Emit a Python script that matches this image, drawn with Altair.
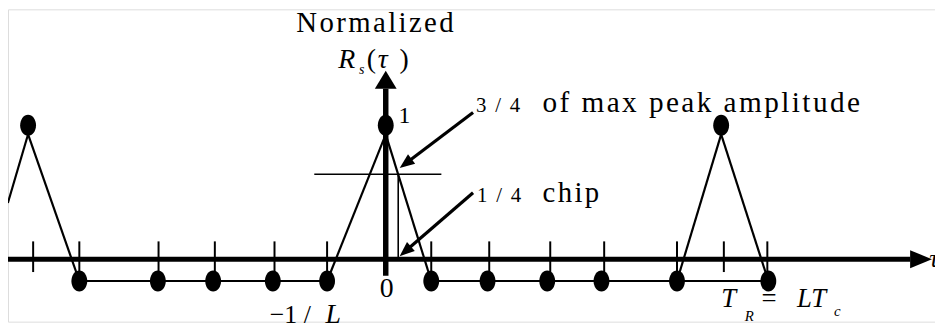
import altair as alt
import pandas as pd

# ---------------- data (tau: delay, R: normalized autocorrelation) ----------------
tick_tau = [-10.46, -9.09, -6.74, -5.07, -3.30, -1.74, 1.35, 3.07, 4.88, 6.48, 8.64, 10.03, 11.32]
tick_low, tick_high = -0.096, 0.133

floor_tau = [-9.09, -6.76, -5.12, -3.35, -1.74, 1.35, 3.02, 4.79, 6.40, 8.64, 11.35]
floor_val = -0.163  # -1/L level

peak_tau = [-10.61, 0.0, 9.95]
peak_val = 1.0
apex_val = 0.933

# triangles: (start tau, start R) -> apex -> (end tau, end R)
tri_start_tau = [-11.21, -1.74, 8.64]
tri_start_val = [0.42, floor_val, floor_val]
tri_end_tau = [-9.09, 1.35, 11.35]

floor_seg_from = [-9.09, 1.35]
floor_seg_to = [-1.74, 11.35]

level_val = 0.635          # 3/4 of max peak line
level_from, level_to = -2.12, 1.65
chip_tau = 0.37            # 1/4 chip marker

# axes
haxis_from, haxis_to, haxis_head = -11.21, 15.56, 15.88
vaxis_from, vaxis_to, vaxis_head = -0.124, 1.274, 1.341

# annotation arrows
arr_from_tau = [2.59, 2.59]
arr_from_val = [1.096, 0.496]
arr_head_tau = [0.59, 0.58]
arr_head_val = [0.715, 0.059]
arr_angle = [233, 229]

HS = "\u200a"  # hair space, mimics the wide letter spacing of the original


def spaced(s):
    return HS.join(s)


# texts
txt_up = pd.DataFrame({
    "tau": [-0.32, 0.38, 2.68, 4.65, 2.71, 4.65, 0.03, -0.56, 0.41, -3.44, 11.15],
    "val": [1.70, 1.015, 1.096, 1.096, 0.430, 0.430, -0.281, 1.43, 1.43, -0.474, -0.356],
    "text": [spaced("Normalized"), "1", spaced("3 / 4"), spaced("of max peak amplitude"),
             spaced("1 / 4"), spaced("chip"), "0", "(", ")", "\u22121 / ", "="],
    "size": [29, 24, 21, 29.5, 21, 29, 28, 28, 28, 26, 27],
    "align": ["center", "left", "left", "left", "left", "left", "center", "left", "left", "left", "left"],
})
txt_it = pd.DataFrame({
    "tau": [-1.41, -0.79, -0.235, -1.79, 9.95, 10.65, 12.20, 13.30, 16.12],
    "val": [1.43, 1.387, 1.43, -0.474, -0.356, -0.459, -0.356, -0.422, -0.059],
    "text": ["R", "s", "\u03c4", "L", "T", "R", "LT", "c", "\u03c4"],
    "size": [28, 14, 28, 28, 27, 15, 27, 15, 26],
})

# ---------------- build tables ----------------
W, H = 935, 315
xdom = [-11.206, 16.294]
ydom = [-0.4667, 1.8667]
X = alt.X("tau:Q", scale=alt.Scale(domain=xdom, nice=False, zero=False), axis=None)
Y = alt.Y("val:Q", scale=alt.Scale(domain=ydom, nice=False, zero=False), axis=None)


def seg_df(x1, y1, x2, y2):
    return pd.DataFrame({"tau": x1, "val": y1, "tau2": x2, "val2": y2})


def rules(df, width):
    return alt.Chart(df).mark_rule(color="black", strokeWidth=width, strokeCap="butt").encode(
        x=X, y=Y, x2="tau2:Q", y2="val2:Q")


legs = seg_df(
    tri_start_tau + peak_tau,
    tri_start_val + [apex_val] * 3,
    peak_tau + tri_end_tau,
    [apex_val] * 3 + [floor_val] * 3,
)
floors = seg_df(floor_seg_from, [floor_val] * 2, floor_seg_to, [floor_val] * 2)
ticks = seg_df(tick_tau, [tick_low] * len(tick_tau), tick_tau, [tick_high] * len(tick_tau))
haxis = seg_df([haxis_from], [0.0], [haxis_to], [0.0])
vaxis = seg_df([0.0], [vaxis_from], [0.0], [vaxis_to])
level = seg_df([level_from, chip_tau], [level_val, 0.0], [level_to, chip_tau], [level_val, level_val])
arrows = seg_df(arr_from_tau, arr_from_val, arr_head_tau, arr_head_val)

ellipse = "M0,-1A0.75,1,0,1,1,0,1A0.75,1,0,1,1,0,-1Z"
dots = pd.DataFrame({"tau": floor_tau + peak_tau,
                     "val": [floor_val] * len(floor_tau) + [peak_val] * len(peak_tau)})
dot_layer = alt.Chart(dots).mark_point(shape=ellipse, size=455, filled=True, color="black",
                                       opacity=1, strokeWidth=0).encode(x=X, y=Y)

hhead = alt.Chart(pd.DataFrame({"tau": [haxis_head], "val": [0.0]})).mark_point(
    shape="M-1,-0.82L1,0L-1,0.82Z", size=484, filled=True, color="black", opacity=1, strokeWidth=0
).encode(x=X, y=Y)
vhead = alt.Chart(pd.DataFrame({"tau": [0.0], "val": [vaxis_head]})).mark_point(
    shape="M-1,0.82L0,-0.82L1,0.82Z", size=484, filled=True, color="black", opacity=1, strokeWidth=0
).encode(x=X, y=Y)
aheads = alt.Chart(pd.DataFrame({"tau": arr_head_tau, "val": arr_head_val, "ang": arr_angle})).mark_point(
    shape="M-0.8,1L0,-1L0.8,1Z", size=225, filled=True, color="black", opacity=1, strokeWidth=0
).encode(x=X, y=Y, angle=alt.Angle("ang:Q", scale=None))

FONT = "Liberation Serif"
text_layers = []
for al in ["left", "center"]:
    sub = txt_up[txt_up["align"] == al]
    text_layers.append(alt.Chart(sub).mark_text(font=FONT, align=al, baseline="alphabetic",
                                                color="black").encode(
        x=X, y=Y, text="text:N", size=alt.Size("size:Q", scale=None)))
text_layers.append(alt.Chart(txt_it).mark_text(font=FONT, fontStyle="italic", align="left",
                                               baseline="alphabetic", color="black").encode(
    x=X, y=Y, text="text:N", size=alt.Size("size:Q", scale=None)))

chart = alt.layer(
    rules(legs, 2.2),
    rules(floors, 2.2),
    rules(ticks, 2),
    rules(level, 1.6),
    rules(haxis, 5),
    rules(vaxis, 5.5),
    rules(arrows, 3.2),
    hhead, vhead, aheads,
    dot_layer,
    *text_layers,
).properties(width=W, height=H, padding=0, autosize=alt.AutoSizeParams(type="none")
).configure_view(stroke=None).configure(background="white")

chart.save("out.html", embed_options={"renderer": "svg", "actions": False})
